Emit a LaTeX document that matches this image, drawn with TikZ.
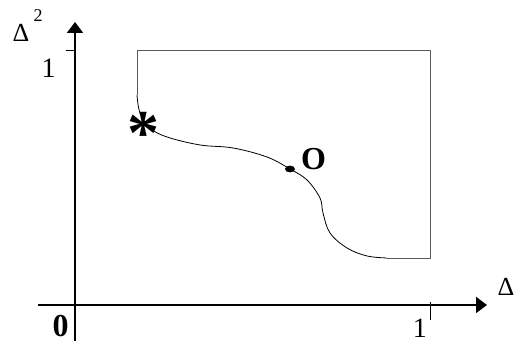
\documentclass[tikz,border=0pt]{standalone}
\usepackage{fontspec}
\setmainfont{Liberation Serif}
\usetikzlibrary{arrows.meta}
\begin{document}
\begin{tikzpicture}[x=177.5pt,y=127.5pt,>={Triangle[length=5.5pt,width=8pt]},line cap=butt,line join=round,
  axis/.style={line width=1pt},
  lbl/.style={inner sep=0pt,font=\fontsize{14}{16}\selectfont},
  bold/.style={inner sep=0pt,font=\fontsize{16}{18}\selectfont\bfseries}]
  \useasboundingbox (-0.2113,-0.1412) rectangle (1.2479,1.196);
  % axes
  \draw[axis,->] (-0.1042,0)--(1.1606,0);
  \draw[axis,->] (0,-0.1412)--(0,1.1098);
  \draw[thin] (-0.0254,1)--(0,1);
  \draw[thin] (1,0.0118)--(1,-0.0588);
  % box
  \draw[gray!70!black,thin] (0.1746,0.8235)--(0.1746,1)--(1,1)--(1,0.1843)--(0.8789,0.1843);
  % curve
  \draw[thin] plot[smooth,tension=0.6] coordinates {(0.1746,0.8235) (0.1831,0.7529) (0.2113,0.6941)
    (0.2592,0.6588) (0.3521,0.6275) (0.4451,0.6157) (0.5408,0.5804) (0.6056,0.5333)
    (0.6535,0.4902) (0.6901,0.4196) (0.6986,0.3608) (0.7183,0.2824) (0.7662,0.2235)
    (0.8225,0.1922) (0.8789,0.1843)};
  \fill (0.6056,0.5333) ellipse (2.5pt and 1.7pt);
  % labels
  \node[lbl,font=\fontsize{13}{15}\selectfont] (d2) at (-0.1521,1.0667) {Δ};
  \node[lbl,font=\fontsize{9}{10}\selectfont] (s2) at (-0.1042,1.1333) {2};
  \node[lbl] (y1) at (-0.0746,0.9294) {1};
  \node[bold] (o) at (-0.0408,-0.0824) {0};
  \node[lbl] (x1) at (0.9718,-0.092) {1};
  \node[lbl,font=\fontsize{13}{15}\selectfont] (d1) at (1.2141,0.0725) {Δ};
  \node[lbl,font=\fontsize{9}{10}\selectfont] (s1) at (1.262,0.1530) {1};
  \node[bold] (optim) at (0.6718,0.5725) {O};
  \node[bold,font=\fontsize{32}{34}\selectfont\bfseries] (star) at (0.1930,0.672) {*};
\end{tikzpicture}
\end{document}
